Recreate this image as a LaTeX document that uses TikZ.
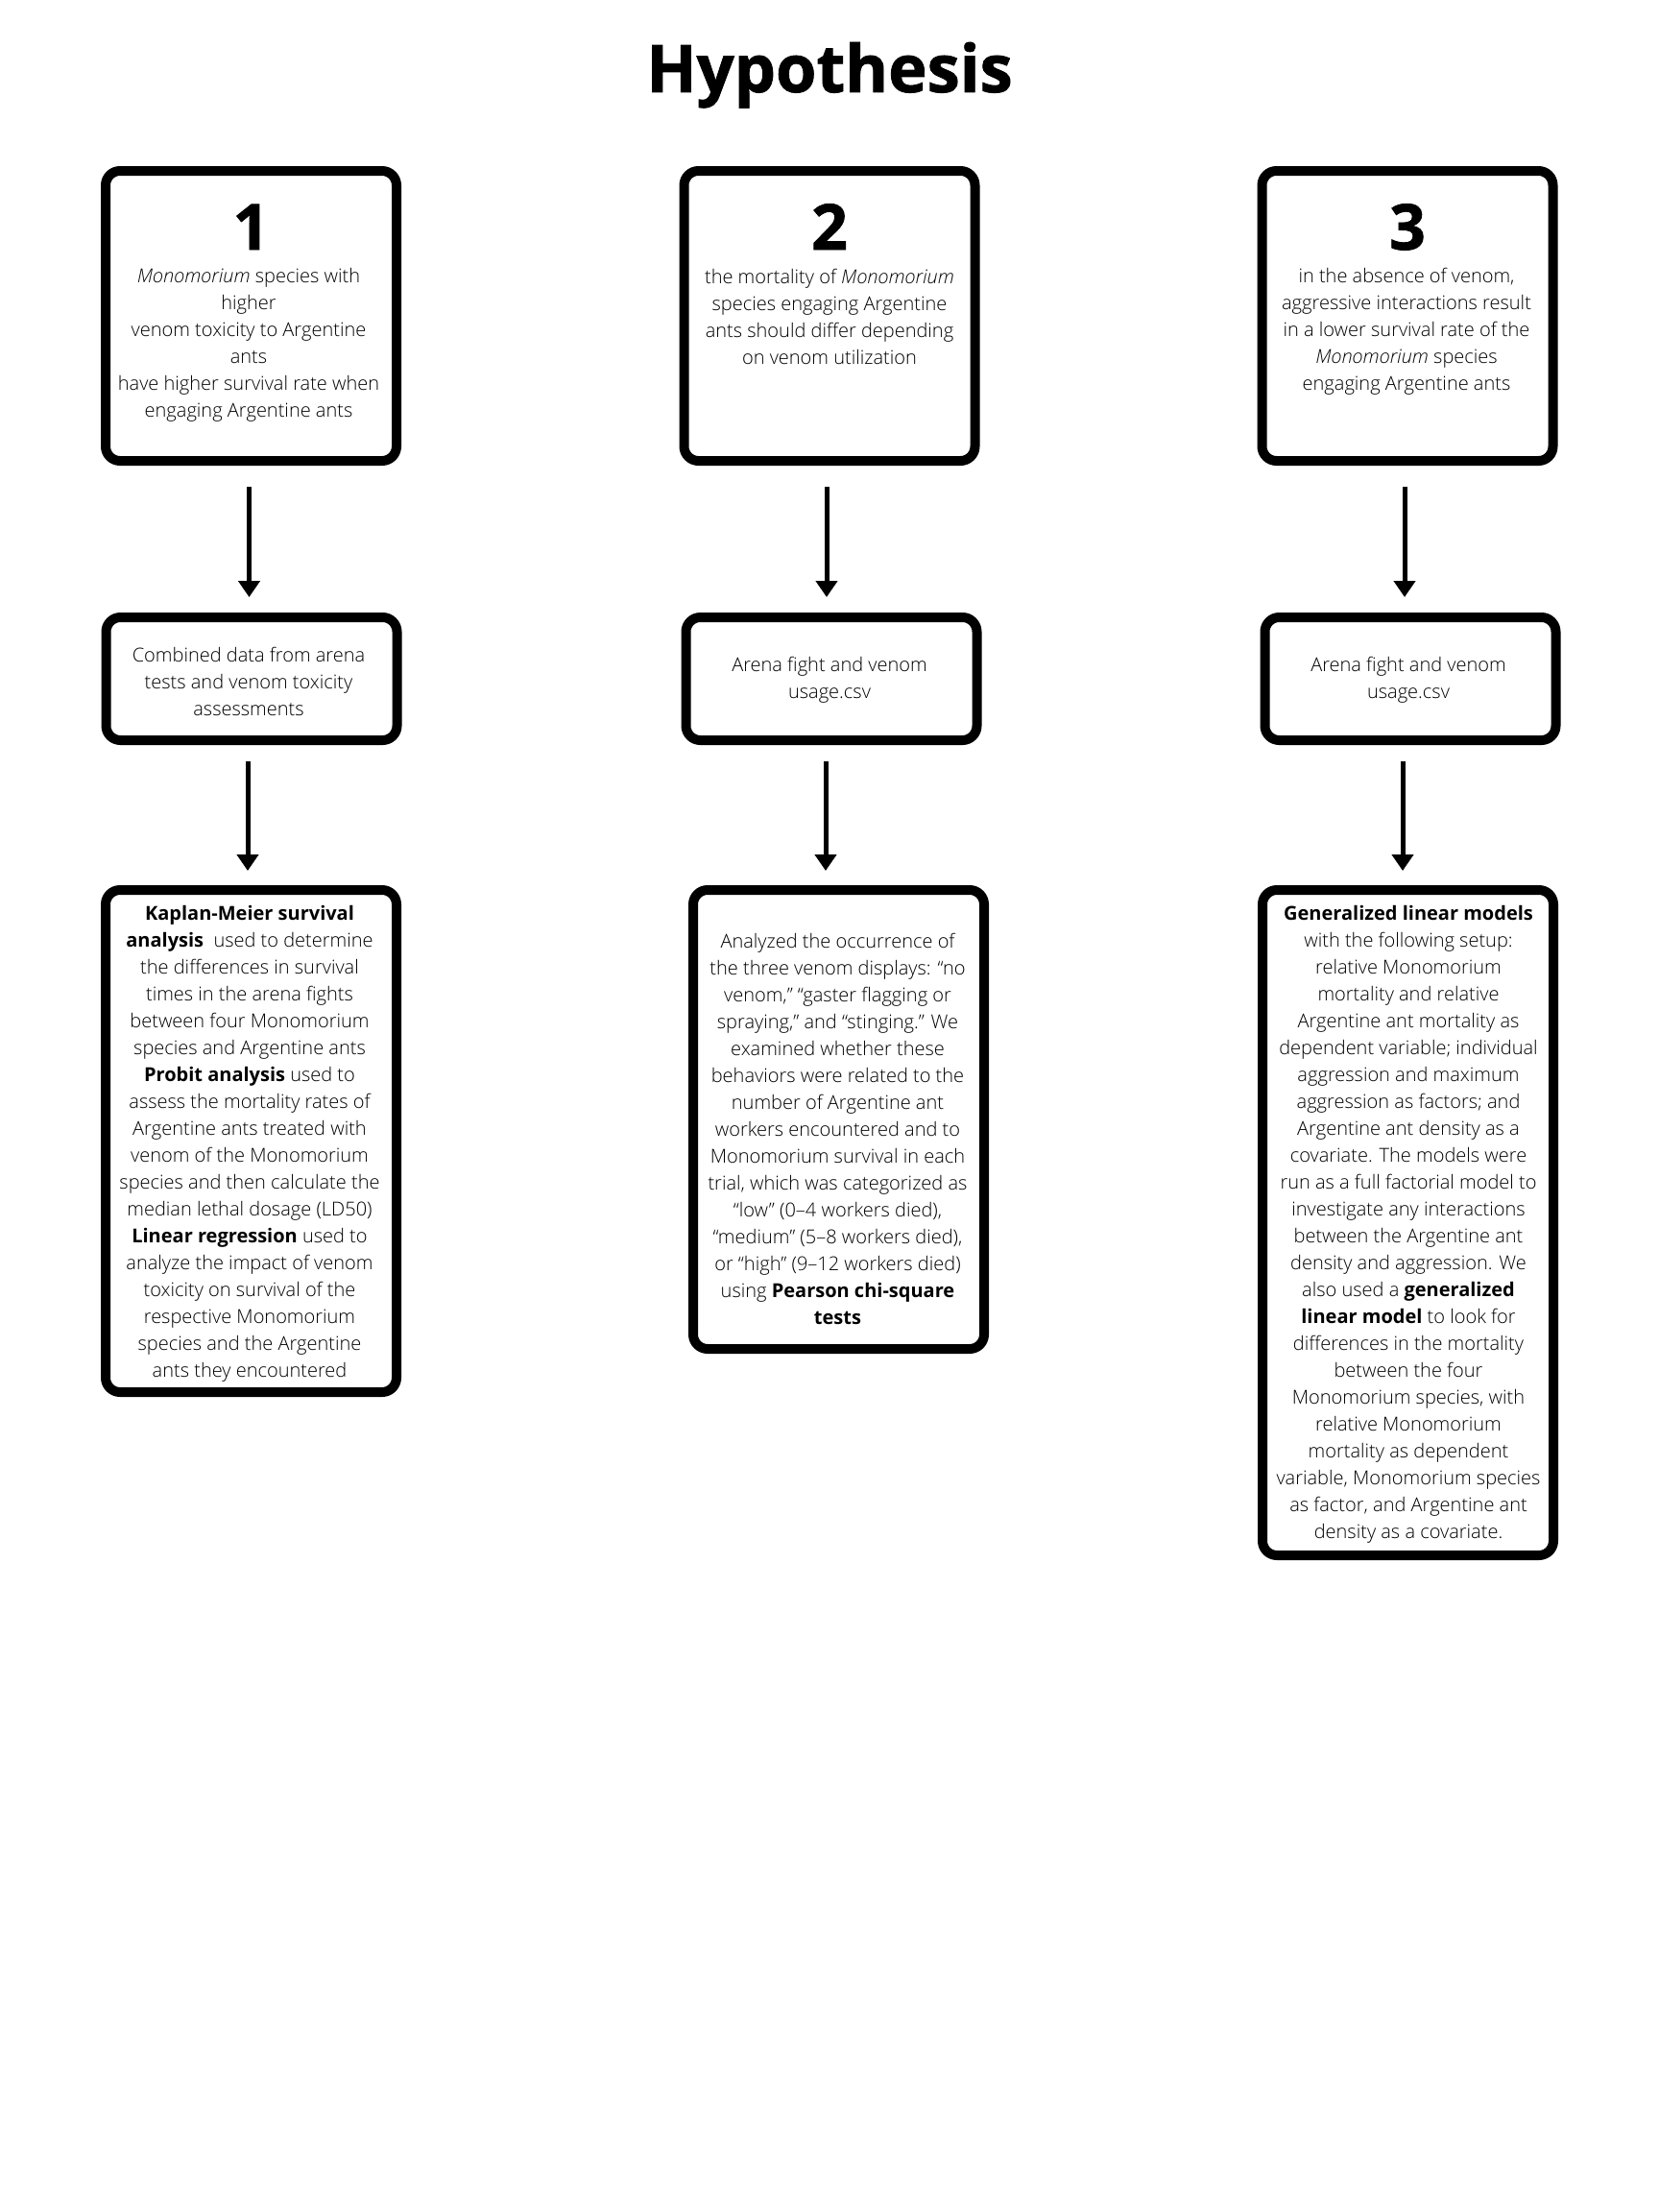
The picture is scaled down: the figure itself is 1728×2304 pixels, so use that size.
\documentclass[tikz,border=0pt]{standalone}
\usepackage{fontspec}
\setmainfont{Open Sans}[UprightFont=* Light, ItalicFont=* Light Italic, BoldFont=* Bold, BoldItalicFont=* Bold Italic]
\newfontfamily\heavyfont{Open Sans}[UprightFont=* Bold, FakeBold=1.2]
\usetikzlibrary{arrows.meta}
\begin{document}
\begin{tikzpicture}[x=1pt,y=-1pt,
  frame/.style={draw=black, line width=10pt, rounded corners=15pt, fill=white,
    minimum width=303pt, inner sep=0pt},
  body/.style={font=\fontsize{20}{28}\selectfont, align=center, inner sep=0pt, text=black},
  numeral/.style={font=\heavyfont\fontsize{66}{66}\selectfont, anchor=base, inner sep=0pt},
  flow/.style={line width=5pt, -{Triangle[width=22pt,length=17pt]}},
]
\path[use as bounding box, fill=white] (0,0) rectangle (1728,2304);

% title
\node[font=\heavyfont\fontsize{68.5}{68.5}\selectfont, anchor=base, inner sep=0pt] (title) at (864,96) {Hypothesis};

% hypothesis boxes
\node[frame, minimum height=302pt] (h1) at (261.5,329) {};
\node[frame, minimum height=302pt] (h2) at (864,329) {};
\node[frame, minimum height=302pt] (h3) at (1466,329) {};

\node[numeral] (n1) at (261.5,260) {1};
\node[numeral] (n2) at (864,260) {2};
\node[numeral] (n3) at (1466,260) {3};

\node[body] (t1) at (259,359) {\textit{Monomorium} species with\\higher\\venom toxicity to Argentine\\ants\\have higher survival rate when\\engaging Argentine ants};
\node[body] (t2) at (864,330) {the mortality of \textit{Monomorium}\\species engaging Argentine\\ants should differ depending\\on venom utilization};
\node[body] (t3) at (1465,345) {in the absence of venom,\\aggressive interactions result\\in a lower survival rate of the\\\textit{Monomorium} species\\engaging Argentine ants};

% data boxes
\node[frame, minimum height=128pt] (d1) at (262,707) {};
\node[frame, minimum height=128pt] (d2) at (866,707) {};
\node[frame, minimum height=128pt] (d3) at (1469,707) {};

\node[body] (s1) at (259,710) {Combined data from arena\\tests and venom toxicity\\assessments};
\node[body] (s2) at (864,708) {Arena fight and venom\\usage.csv};
\node[body] (s3) at (1467,708) {Arena fight and venom\\usage.csv};

% analysis boxes
\node[frame, minimum height=523pt] (a1) at (261.5,1188.5) {};
\node[frame, minimum height=478pt] (a2) at (873.5,1166) {};
\node[frame, minimum height=693pt] (a3) at (1466.5,1273.5) {};

\node[body] (m1) at (260,1191) {\textbf{Kaplan-Meier survival}\\\textbf{analysis}\ \ used to determine\\the differences in survival\\times in the arena fights\\between four Monomorium\\species and Argentine ants\\\textbf{Probit analysis} used to\\assess the mortality rates of\\Argentine ants treated with\\venom of the Monomorium\\species and then calculate the\\median lethal dosage (LD50)\\\textbf{Linear regression} used to\\analyze the impact of venom\\toxicity on survival of the\\respective Monomorium\\species and the Argentine\\ants they encountered};
\node[body] (m2) at (872.5,1176) {Analyzed the occurrence of\\the three venom displays: “no\\venom,” “gaster flagging or\\spraying,” and “stinging.” We\\examined whether these\\behaviors were related to the\\number of Argentine ant\\workers encountered and to\\Monomorium survival in each\\trial, which was categorized as\\“low” (0–4 workers died),\\“medium” (5–8 workers died),\\or “high” (9–12 workers died)\\using \textbf{Pearson chi-square}\\\textbf{tests}};
\node[body] (m3) at (1467,1275) {\textbf{Generalized linear models}\\with the following setup:\\relative Monomorium\\mortality and relative\\Argentine ant mortality as\\dependent variable; individual\\aggression and maximum\\aggression as factors; and\\Argentine ant density as a\\covariate. The models were\\run as a full factorial model to\\investigate any interactions\\between the Argentine ant\\density and aggression. We\\also used a \textbf{generalized}\\\textbf{linear model} to look for\\differences in the mortality\\between the four\\Monomorium species, with\\relative Monomorium\\mortality as dependent\\variable, Monomorium species\\as factor, and Argentine ant\\density as a covariate.};

% connectors
\draw[flow, shorten <=22pt, shorten >=16pt] ([xshift=-2pt]h1.south) -- ([xshift=-2pt]h1.south |- d1.north);
\draw[flow, shorten <=22pt, shorten >=16pt] ([xshift=-3pt]h2.south) -- ([xshift=-3pt]h2.south |- d2.north);
\draw[flow, shorten <=22pt, shorten >=16pt] ([xshift=-3pt]h3.south) -- ([xshift=-3pt]h3.south |- d3.north);

\draw[flow, shorten <=17pt, shorten >=15pt] ([xshift=-4pt]d1.south) -- ([xshift=-4pt]d1.south |- a1.north);
\draw[flow, shorten <=17pt, shorten >=15pt] ([xshift=-6pt]d2.south) -- ([xshift=-6pt]d2.south |- a2.north);
\draw[flow, shorten <=17pt, shorten >=15pt] ([xshift=-8pt]d3.south) -- ([xshift=-8pt]d3.south |- a3.north);
\end{tikzpicture}
\end{document}
